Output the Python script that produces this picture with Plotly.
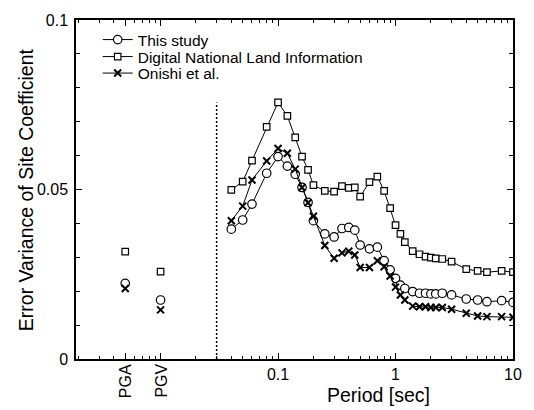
import numpy as np
import plotly.graph_objects as go

# ---------------- data ----------------
periods = [0.04, 0.05, 0.06, 0.08, 0.1, 0.12, 0.14, 0.16, 0.18, 0.2, 0.25, 0.3, 0.35,
           0.4, 0.45, 0.5, 0.6, 0.7, 0.8, 0.9, 1.0, 1.1, 1.2, 1.4, 1.6, 1.8, 2.0, 2.2,
           2.5, 3.0, 4.0, 5.0, 6.0, 8.0, 10.0]

this_study = [0.0383, 0.0410, 0.0457, 0.0548, 0.0597, 0.0569, 0.0545, 0.0506, 0.0462,
              0.0408, 0.0369, 0.0360, 0.0385, 0.0388, 0.0380, 0.0336, 0.0325, 0.0330,
              0.0290, 0.0263, 0.0238, 0.0218, 0.0208, 0.0199, 0.0194, 0.0194, 0.0192,
              0.0192, 0.0194, 0.0189, 0.0177, 0.0174, 0.0169, 0.0172, 0.0167]

dnli = [0.0499, 0.0523, 0.0585, 0.0685, 0.0757, 0.0717, 0.0654, 0.0597, 0.0558, 0.0513,
        0.0496, 0.0494, 0.0510, 0.0505, 0.0506, 0.0479, 0.0522, 0.0538, 0.0496, 0.0445,
        0.0395, 0.0369, 0.0345, 0.0318, 0.0309, 0.0302, 0.0299, 0.0297, 0.0295, 0.0287,
        0.0265, 0.0260, 0.0256, 0.0260, 0.0256]

onishi = [0.0408, 0.0451, 0.0528, 0.0584, 0.0621, 0.0607, 0.0560, 0.0506, 0.0461, 0.0421,
          0.0335, 0.0297, 0.0313, 0.0318, 0.0307, 0.0270, 0.0270, 0.0290, 0.0272, 0.0245,
          0.0212, 0.0189, 0.0174, 0.0156, 0.0154, 0.0154, 0.0152, 0.0152, 0.0152, 0.0147,
          0.0135, 0.0127, 0.0125, 0.0125, 0.0123]

# PGA / PGV placed at pseudo-periods on the log axis
pg_labels = ["PGA", "PGV"]
pg_pos = [0.005, 0.01]
pg_this = [0.0223, 0.0174]
pg_dnli = [0.0317, 0.0258]
pg_onishi = [0.0208, 0.0145]

separator_x = 0.03
separator_y = [0.0, 0.0757]

series_names = ["This study", "Digital National Land Information", "Onishi et al."]

x_ticks = [0.1, 1, 10]
x_ticktext = ["0.1", "1", "10"]
y_ticks = [0, 0.05, 0.1]
y_ticktext = ["0", "0.05", "0.1"]

# ---------------- styling ----------------
FONT = "Liberation Sans, Arial, sans-serif"
styles = [
    dict(symbol="circle", size=8.5, color="white", line=dict(color="black", width=1.2)),
    dict(symbol="square", size=6.5, color="white", line=dict(color="black", width=1.2)),
    dict(symbol="x-thin", size=7, color="black", line=dict(color="black", width=2)),
]
series = [this_study, dnli, onishi]
pg_series = [pg_this, pg_dnli, pg_onishi]
legend_ids = ["legend", "legend2", "legend3"]

fig = go.Figure()

# dotted separator
fig.add_trace(go.Scatter(x=[separator_x, separator_x], y=separator_y, mode="lines",
                         line=dict(color="black", width=1.5, dash="2px,2px"),
                         showlegend=False, hoverinfo="skip"))

for name, ys, pys, st, lg in zip(series_names, series, pg_series, styles, legend_ids):
    fig.add_trace(go.Scatter(x=periods, y=ys, mode="lines+markers", name=name,
                             line=dict(color="black", width=1),
                             marker=st, legend=lg, legendgroup=name))
for name, ys, pys, st, lg in zip(series_names, series, pg_series, styles, legend_ids):
    fig.add_trace(go.Scatter(x=pg_pos, y=pys, mode="markers", name=name,
                             marker=st, showlegend=False, legendgroup=name))

# minor ticks
minor_vals = []
for k in range(-3, 1):
    for m in range(2, 10):
        v = m * 10.0 ** k
        if v not in pg_pos:
            minor_vals.append(v)

L, R, T, B = 76, 15, 20, 51
W, H = 534, 410
pw, ph = W - L - R, H - T - B

def px_y(py):
    return (H - B - py) / ph

def px_x(px):
    return (px - L) / pw

fig.update_layout(
    width=W, height=H,
    margin=dict(l=L, r=R, t=T, b=B),
    paper_bgcolor="white", plot_bgcolor="white",
    font=dict(family=FONT, size=16, color="black"),
    showlegend=True,
)

legend_rows = [40, 57, 73.5]
for lg, row in zip(legend_ids, legend_rows):
    fig.update_layout({lg: dict(x=px_x(98), y=px_y(row), xanchor="left", yanchor="middle",
                                bgcolor="rgba(0,0,0,0)", borderwidth=0,
                                font=dict(family=FONT, size=15.5, color="black"),
                                itemwidth=30, tracegroupgap=0)})

fig.update_xaxes(
    type="log", range=[-2.72, 1.0],
    tickvals=pg_pos + x_ticks, ticktext=["", ""] + x_ticktext,
    ticks="inside", ticklen=6, tickwidth=1, tickcolor="black",
    minor=dict(tickvals=minor_vals, ticks="inside", ticklen=3.5, tickwidth=1, tickcolor="black"),
    showline=True, linecolor="black", linewidth=1.5, mirror="allticks",
    showgrid=False, zeroline=False,
    tickfont=dict(family=FONT, size=16, color="black"),
)
fig.update_yaxes(
    range=[0, 0.1],
    tickvals=y_ticks, ticktext=y_ticktext,
    ticks="inside", ticklen=6, tickwidth=1, tickcolor="black",
    minor=dict(dtick=0.01, ticks="inside", ticklen=4, tickwidth=1, tickcolor="black"),
    showline=True, linecolor="black", linewidth=1.5, mirror="allticks",
    showgrid=False, zeroline=False,
    tickfont=dict(family=FONT, size=16, color="black"),
    ticklabelstandoff=3,
)

# PGA / PGV labels (rotated)
for lab, xv in zip(pg_labels, pg_pos):
    fig.add_annotation(x=np.log10(xv), y=0, xref="x", yref="y", text=lab, textangle=-90,
                       showarrow=False, yanchor="top", xanchor="center", yshift=-3,
                       font=dict(family=FONT, size=16, color="black"))

# axis titles
fig.add_annotation(x=px_x(383), y=px_y(395), xref="paper", yref="paper",
                   text="Period [sec]", showarrow=False, xanchor="center", yanchor="middle",
                   font=dict(family=FONT, size=19.5, color="black"))
fig.add_annotation(x=px_x(25), y=0.5, xref="paper", yref="paper",
                   text="Error Variance of Site Coefficient", textangle=-90,
                   showarrow=False, xanchor="center", yanchor="middle",
                   font=dict(family=FONT, size=19.5, color="black"))

fig.write_html("out.html")
